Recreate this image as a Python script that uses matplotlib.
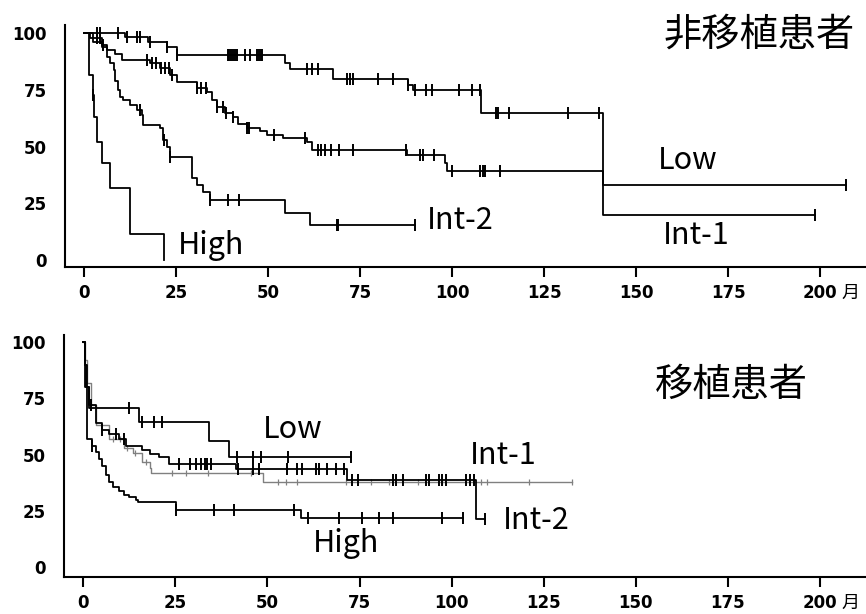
import numpy as np
import matplotlib.pyplot as plt

plt.rcParams['font.family'] = ['Noto Sans CJK JP', 'DejaVu Sans']

# ---- upper panel: non-transplant patients (months, % survival) ----
top_low_t = [0, 11, 17.5, 22.6, 25.3, 54.6, 56, 67.7, 88, 89.5, 108, 141]
top_low_s = [100, 98.5, 96, 94, 90.3, 87, 84, 79.7, 77, 75, 65, 33]
top_low_end = 207
top_low_cens = [3.5, 4.3, 9.3, 11.6, 14.4, 15.2, 18, 22.6, 25.3, 39, 39.5, 40, 40.5,
                41, 41.5, 43.7, 45, 47, 47.5, 48, 48.4, 60.6, 62, 63.5, 71.5, 72.2,
                73, 80, 84, 88, 90, 93, 94.5, 102, 105.5, 107.5, 112, 112.5, 115.5,
                131.5, 140, 207]

top_int1_t = [0, 1.6, 4.9, 6.2, 8.4, 10.4, 18, 20.7, 23.4, 25.3, 30.7, 33.4, 34.8, 36,
              38.3, 40.5, 41.8, 44.2, 47.8, 49.6, 54, 60.6, 62, 87.8, 98, 98.6, 141]
top_int1_s = [100, 98, 94.7, 92.5, 91, 88, 87, 84.6, 81.5, 78.4, 76, 74, 70.5, 67.5,
              65, 63, 60, 58, 57, 55, 54, 52, 48.5, 46.3, 42.7, 39.2, 19.8]
top_int1_end = 198.6
top_int1_cens = [3.4, 4.3, 5.2, 17, 18.5, 19.5, 21, 22, 23, 24, 30.7, 31.7, 33, 36,
                 37.8, 38.7, 40.5, 44.2, 44.9, 51.5, 60.1, 63.5, 64.5, 65.5, 67, 69.4,
                 73, 87.5, 91.3, 92, 95, 100, 107.6, 108.3, 109, 113, 198.6]

top_int2_t = [0, 2.5, 4.9, 6.2, 7, 8, 8.5, 9.3, 9.8, 10.7, 12.5, 14.4, 15.7, 16, 20.7,
              21.5, 22.5, 23.4, 29.4, 30.7, 32.4, 34.2, 54.6, 61.4]
top_int2_s = [100, 96, 94, 89.4, 86.8, 83.7, 79, 75, 72, 70.5, 68.3, 66, 64, 59.5, 58,
              53, 50, 45.4, 36, 33, 30, 26.4, 20.7, 15.4]
top_int2_end = 90
top_int2_cens = [15.2, 21.6, 23.4, 34.2, 39, 42.2, 68.6, 68.9, 90]

top_high_t = [0, 1.4, 2.4, 2.7, 3.5, 4.8, 7, 12.5, 21.8]
top_high_s = [100, 81.5, 72.6, 63, 52, 42.7, 31.7, 11.4, 0]
top_high_end = 21.8
top_high_cens = [2.5]

# ---- lower panel: transplant patients ----
bot_low_t = [0, 0.5, 1, 1.6, 15.2, 34.2, 39.7]
bot_low_s = [100, 90, 80, 70.7, 64.4, 56, 49]
bot_low_end = 72.8
bot_low_cens = [12.5, 16, 19.3, 21.5, 41.7, 46, 48.3, 55.5, 72.8]

bot_int1_t = [0, 0.5, 1, 2, 3.5, 7, 11, 13.4, 16, 18, 18.5, 48.7]
bot_int1_s = [100, 92, 82, 72, 63, 57, 53, 50.7, 46.7, 44, 41.8, 38]
bot_int1_end = 132.6
bot_int1_cens = [8, 10, 12, 14, 17, 24, 28, 34, 45.6, 53, 55, 58, 71.4, 78, 83, 91,
                 97.3, 108, 109.5, 121, 132.6]

bot_int2_t = [0, 0.4, 0.8, 1.5, 3.5, 5, 7, 9.8, 11.6, 16, 18, 20.7, 23.4, 41.5, 71.5,
              106.5]
bot_int2_s = [100, 90, 80, 72, 64, 61, 59, 57, 54, 52, 50.5, 49, 46, 43.5, 38.7, 21.5]
bot_int2_end = 109
bot_int2_cens = [2, 5, 9, 11, 26, 29, 30.7, 32, 33, 33.7, 34.8, 42, 46, 47.8, 55.4,
                 58, 59.5, 63.3, 64, 66.3, 68.7, 70.9, 73, 74.5, 84, 85, 86.8, 93, 94,
                 96.7, 97.5, 98.6, 104, 105, 106, 109]

bot_high_t = [0, 0.5, 1, 2.5, 3.5, 4.3, 5.2, 6.2, 7, 8, 9.8, 11, 12.5, 14.4, 15, 25.2,
              59]
bot_high_s = [100, 80, 57, 54, 51, 48, 45, 41, 38, 35.6, 34, 32, 31, 30, 29, 25.3,
              21.8]
bot_high_end = 103
bot_high_cens = [2.5, 25.2, 35.6, 41, 57.3, 61, 69.3, 75.8, 80.4, 84, 97.3, 103]

xticks = [0, 25, 50, 75, 100, 125, 150, 175, 200]
yticks = [0, 25, 50, 75, 100]


def surv_at(times, surv, t):
    idx = np.searchsorted(times, t, side='right') - 1
    return np.asarray(surv)[idx]


def draw_km(ax, times, surv, end, cens, color='black', lw=1.3, ms=8, mew=1.4):
    t = list(times) + [end]
    s = list(surv) + [surv[-1]]
    ax.step(t, s, where='post', color=color, lw=lw)
    ax.plot(cens, surv_at(times, surv, cens), ls='none', marker='|',
            ms=ms, mew=mew, color=color)


def setup(ax, ylim):
    ax.set_xlim(-5.2, 212.5)
    ax.set_ylim(*ylim)
    for side in ['top', 'right']:
        ax.spines[side].set_visible(False)
    for side in ['left', 'bottom']:
        ax.spines[side].set_linewidth(1.5)
    ax.set_xticks(xticks)
    ax.set_yticks(yticks)
    ax.tick_params(axis='x', length=7, width=1.5, pad=5, labelsize=12)
    ax.tick_params(axis='y', length=0, pad=13, labelsize=12)
    for lab in ax.get_xticklabels() + ax.get_yticklabels():
        lab.set_fontfamily('DejaVu Sans')
        lab.set_fontweight('heavy')
    ax.annotate('月', xy=(208.4, 0), xycoords=('data', 'axes fraction'),
                xytext=(0, -26), textcoords='offset pixels',
                ha='center', va='center', fontsize=13)


fig = plt.figure(figsize=(8.66, 6.14), dpi=100)
ax1 = fig.add_axes([0.075, 0.565, 0.925, 0.394])
ax2 = fig.add_axes([0.074, 0.060, 0.926, 0.394])

setup(ax1, (-3.1, 103.5))
draw_km(ax1, top_low_t, top_low_s, top_low_end, top_low_cens)
draw_km(ax1, top_int1_t, top_int1_s, top_int1_end, top_int1_cens)
draw_km(ax1, top_int2_t, top_int2_s, top_int2_end, top_int2_cens)
draw_km(ax1, top_high_t, top_high_s, top_high_end, top_high_cens)

lab_kw = dict(fontsize=22, ha='left', va='center')
ax1.text(156, 44, 'Low', **lab_kw)
ax1.text(157.3, 11, 'Int-1', **lab_kw)
ax1.text(93.2, 17.6, 'Int-2', **lab_kw)
ax1.text(25.5, 6.6, 'High', **lab_kw)
ax1.text(157.5, 99, '非移植患者', fontsize=27.5, ha='left', va='center')

setup(ax2, (-4.4, 103.1))
draw_km(ax2, bot_int1_t, bot_int1_s, bot_int1_end, bot_int1_cens,
        color='#808080', lw=1.0, ms=5, mew=0.9)
draw_km(ax2, bot_low_t, bot_low_s, bot_low_end, bot_low_cens)
draw_km(ax2, bot_int2_t, bot_int2_s, bot_int2_end, bot_int2_cens)
draw_km(ax2, bot_high_t, bot_high_s, bot_high_end, bot_high_cens)

ax2.text(48.7, 61, 'Low', **lab_kw)
ax2.text(105, 49.8, 'Int-1', **lab_kw)
ax2.text(114, 21, 'Int-2', **lab_kw)
ax2.text(62.3, 10.7, 'High', **lab_kw)
ax2.text(155.2, 81, '移植患者', fontsize=27.5, ha='left', va='center')

fig.savefig('out.png', dpi=100)
